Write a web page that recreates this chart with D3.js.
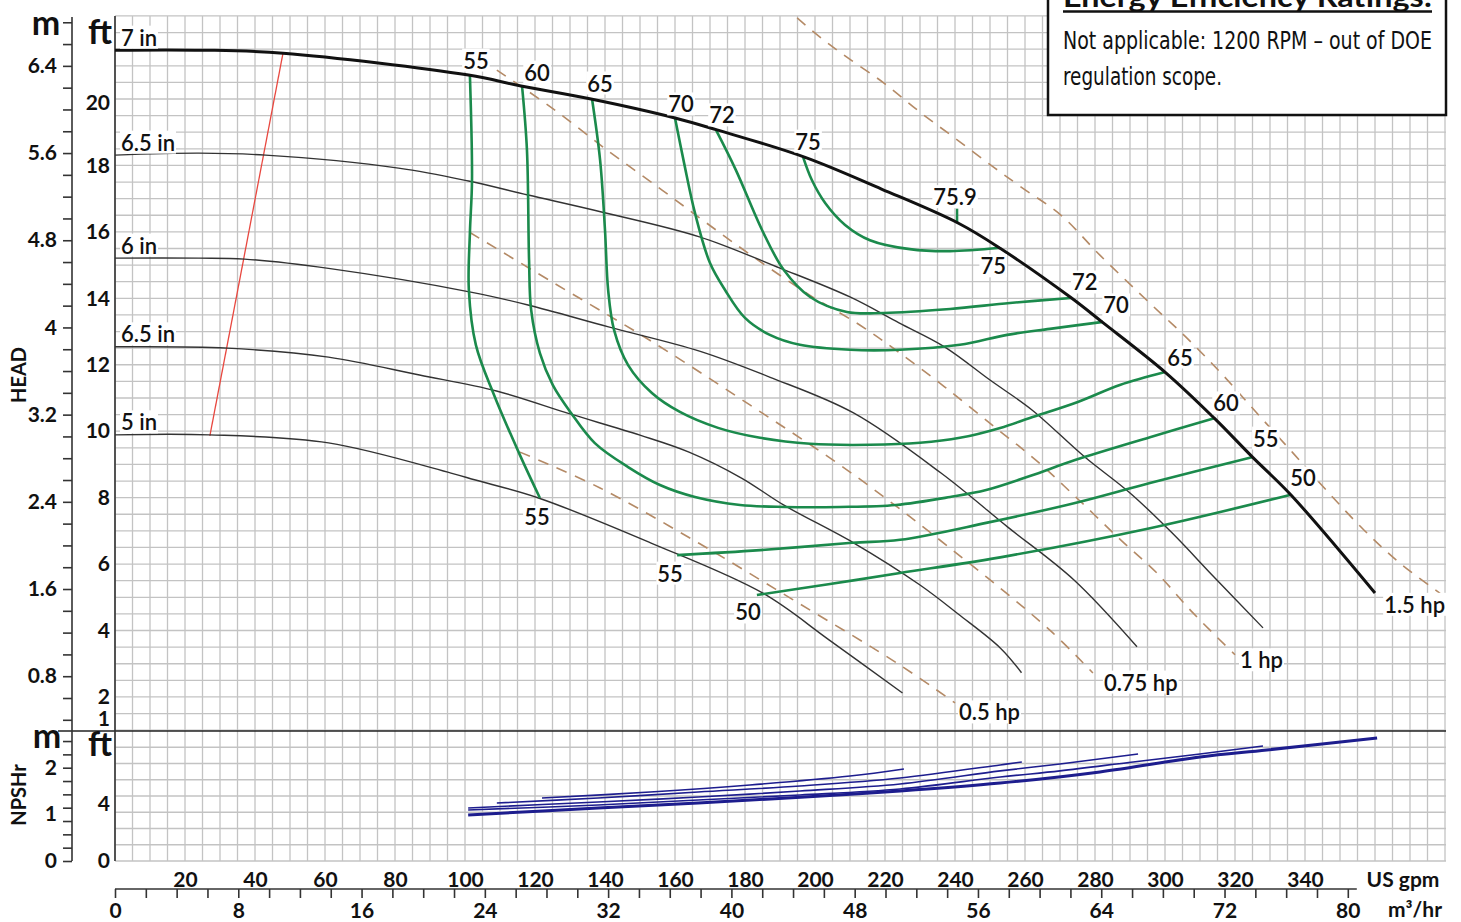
<!DOCTYPE html>
<html><head><meta charset="utf-8">
<script src="https://cdn.jsdelivr.net/npm/d3@7"></script>
<style>
body{margin:0;background:#fff}
svg{display:block}
text{font-family:Lato,"Open Sans","DejaVu Sans",sans-serif;fill:#111}
</style>
</head><body>
<svg id="c" width="1461" height="922"></svg>
<script>
// ---------------- DATA ----------------
const gpmTicks = [20,40,60,80,100,120,140,160,180,200,220,240,260,280,300,320,340];
const m3hLabels = [0,8,16,24,32,40,48,56,64,72,80];
const headFtTicks = [20,18,16,14,12,10,8,6,4,2,1];
const headMTicks = [6.4,5.6,4.8,4,3.2,2.4,1.6,0.8];
const npshFtTicks = [4,0];
const npshMTicks = [2,1,0];

const impellerNames = ["7 in","6.5 in","6 in","6.5 in","5 in"];

// head curves (US gpm, ft)
const h1Gpm = [0,25,48,101,116,136,160,172,197,219,241,253,273,282,300,314,325,336,360];
const h1Ft  = [21.47,21.47,21.38,20.72,20.39,20.0,19.43,19.07,18.25,17.29,16.26,15.50,14.03,13.29,11.78,10.40,9.22,8.08,5.13];
const h2Gpm = [0,24,43,81,101,118,139,167,190,210,224,237,250,262,277,290,302,314,328];
const h2Ft  = [18.31,18.37,18.31,17.92,17.53,17.11,16.60,15.85,14.91,14.04,13.26,12.54,11.54,10.64,9.23,8.14,6.94,5.61,4.08];
const h3Gpm = [0,24,37,61,102,118,141,167,187,211,236,255,274,292];
const h3Ft  = [15.21,15.21,15.18,14.90,14.18,13.80,13.14,12.41,11.63,10.55,8.74,7.12,5.52,3.51];
const h4Gpm = [0,32,61,87,109,130,150,164,179,191,211,230,241,253,259];
const h4Ft  = [12.54,12.50,12.23,11.69,11.21,10.52,9.88,9.37,8.59,7.78,6.64,5.37,4.49,3.47,2.73];
const h5Gpm = [0,27,61,96,103,121,153,185,204,225];
const h5Ft  = [9.89,9.89,9.65,8.74,8.53,7.99,6.64,5.13,3.72,2.12];

// efficiency curves (%)
const e55aGpm = [101.4,102.0,101.4,101.1,103.1,108.3,115.7,121.4];
const e55aFt  = [20.72,17.56,15.97,14.25,12.60,11.09,9.28,7.99];
const e55bGpm = [160.6,184.3,210.6,224.3,248.9,274.3,295.7,325.1];
const e55bFt  = [6.27,6.42,6.64,6.73,7.24,7.84,8.44,9.22];
const e50Gpm  = [183.4,204.3,224.3,254.9,295.7,335.7];
const e50Ft   = [5.07,5.40,5.73,6.24,7.08,8.08];
const e60Gpm  = [116.3,117.7,118.3,118.9,121.4,125.1,130.3,137.1,146.6,155.7,165.7,178.6,191.4,207.1,223.1,238.6,248.9,261.4,274.3,295.7,314.3];
const e60Ft   = [20.39,18.47,15.16,13.65,12.35,11.39,10.55,9.64,8.92,8.38,8.02,7.78,7.72,7.72,7.78,8.02,8.23,8.65,9.13,9.82,10.40];
const e65Gpm  = [136.3,138.6,140.0,140.9,142.6,146.6,153.4,161.4,172.3,184.3,198.6,215.7,230.0,241.4,252.9,261.4,275.1,287.1,300.0];
const e65Ft   = [20.00,18.16,16.05,14.25,13.04,11.99,11.15,10.58,10.10,9.80,9.62,9.59,9.65,9.80,10.10,10.40,10.88,11.39,11.78];
const e70Gpm  = [160.0,162.6,165.7,170.0,174.3,180.0,187.1,195.7,210.0,224.3,241.4,254.9,267.1,282.3];
const e70Ft   = [19.43,18.07,16.57,15.06,14.25,13.41,12.90,12.60,12.45,12.45,12.60,12.90,13.08,13.29];
const e72Gpm  = [171.7,177.4,184.9,191.1,198.6,209.1,219.7,238.6,255.7,273.1];
const e72Ft   = [19.07,17.86,16.05,14.85,14.04,13.59,13.56,13.68,13.86,14.01];
const e75Gpm  = [196.6,199.1,202.9,208.6,215.7,227.1,238.6,252.9];
const e75Ft   = [18.25,17.56,16.87,16.21,15.75,15.48,15.42,15.52];
const bepGpm = 240.6, bepFt = [16.26,16.70], bepLabel = "75.9";

// power lines (hp)
const hpNames = ["0.5 hp","0.75 hp","1 hp","1.5 hp"];
const p1Gpm = [115.7,138.6,167.1,195.7,224.3,240.0];
const p1Ft  = [9.37,8.29,6.61,4.80,2.96,1.82];
const p2Gpm = [101.4,124.3,152.9,181.4,210.0,238.6,267.1,279.4];
const p2Ft  = [15.98,14.53,12.73,10.79,8.77,6.48,4.01,2.72];
const p3Gpm = [109.1,124.6,141.4,156.3,169.1,182.9,198.6,212.9,224.3,237.1,251.4,263.1,275.4,287.4,297.7,308.0,320.0];
const p3Ft  = [20.87,19.75,18.40,17.26,16.26,15.21,14.09,13.19,12.35,11.33,10.12,9.13,7.93,6.72,5.73,4.53,3.27];
const p4Gpm = [194.9,201.7,209.1,219.7,230.3,240.9,251.4,258.9,270.3,281.4,295.7,306.0,316.0,326.3,336.6,346.9,356.9,367.1,378.6];
const p4Ft  = [22.44,21.84,21.26,20.48,19.58,18.75,17.92,17.35,16.50,15.30,13.85,12.83,11.75,10.54,9.34,8.13,7.02,6.03,5.12];

// red line
const redGpm = [27.1,48.0];
const redFt  = [9.86,21.38];

// NPSHr (ft)
const n1Gpm = [100.9,138.0,166.6,197.1,224.3,252.9,281.4,310.0,329.1,360.6];
const n1Ft  = [3.23,3.72,4.07,4.49,4.91,5.47,6.25,7.30,7.79,8.63];
const n2Gpm = [100.9,138.0,166.6,195.7,224.3,252.9,270.0,290.9,310.0,328.0];
const n2Ft  = [3.58,3.93,4.28,4.63,5.05,5.89,6.32,6.95,7.51,8.07];
const n3Gpm = [100.9,138.0,166.6,195.7,224.3,252.9,270.0,292.3];
const n3Ft  = [3.72,4.14,4.49,4.91,5.40,6.32,6.81,7.51];
const n4Gpm = [109.1,138.0,166.6,195.7,224.3,252.9,259.1];
const n4Ft  = [4.07,4.42,4.84,5.26,5.82,6.74,6.95];
const n5Gpm = [122.0,152.9,181.4,210.0,225.4];
const n5Ft  = [4.42,4.84,5.33,5.96,6.46];

const legendTitle = "Energy Efficiency Ratings:";
const legendLines = ["Not applicable: 1200 RPM \u2013 out of DOE","regulation scope."];

// ---------------- LAYOUT ----------------
const FT_PER_M = 3.28084, GPM_PER_M3H = 4.402868;
const svg = d3.select("#c");
const x = d3.scaleLinear().domain([0,380]).range([115,1445]);
const yH = d3.scaleLinear().domain([0,22.5]).range([763.4, 763.4-22.5*33.22]);
const yHm = d3.scaleLinear().domain([0,22.5/FT_PER_M]).range(yH.range());
const yN = d3.scaleLinear().domain([0,9.12]).range([861,731]);
const yNm = d3.scaleLinear().domain([0,9.12/FT_PER_M]).range([861,731]);
const xm = d3.scaleLinear().domain([0,380/GPM_PER_M3H]).range([115,1445]);
const TOP = 16, SEP = yN(9.12), BOT = yN(0), RIGHT = 1446;

const pts = (g,f) => d3.zip(g,f);
const lineH = d3.line().x(d=>x(d[0])).y(d=>yH(d[1])).curve(d3.curveCatmullRom.alpha(0.5));
const lineN = d3.line().x(d=>x(d[0])).y(d=>yN(d[1])).curve(d3.curveCatmullRom.alpha(0.5));

// grid
const grid = svg.append("g").attr("stroke","#c3c3c3").attr("stroke-width",1.3);
grid.selectAll(".v").data(d3.range(0,381,5)).join("line")
  .attr("x1",d=>x(d)).attr("x2",d=>x(d)).attr("y1",TOP).attr("y2",BOT);
grid.selectAll(".h").data(d3.range(1,22.51,0.5)).join("line").attr("class","h")
  .attr("x1",x(0)).attr("x2",RIGHT).attr("y1",d=>yH(d)).attr("y2",d=>yH(d));
grid.selectAll(".n").data(d3.range(0,8).map(i=>i*9.12/8)).join("line").attr("class","n")
  .attr("x1",x(0)).attr("x2",RIGHT).attr("y1",d=>yN(d)).attr("y2",d=>yN(d));

// separator and axis lines
svg.append("line").attr("x1",58).attr("x2",RIGHT).attr("y1",SEP).attr("y2",SEP).attr("stroke","#222").attr("stroke-width",1.6);
svg.append("line").attr("x1",x(0)).attr("x2",x(0)).attr("y1",TOP).attr("y2",BOT).attr("stroke","#333").attr("stroke-width",1.6);
svg.append("line").attr("x1",72).attr("x2",72).attr("y1",17).attr("y2",BOT).attr("stroke","#333").attr("stroke-width",1.6);

function styleAxis(g, size){
  g.select(".domain").remove();
  g.selectAll("line").attr("stroke","#333").attr("stroke-width",1.6);
  g.selectAll("text").attr("font-size",size).attr("font-weight",700).attr("fill","#111")
    .style("font-family","Lato, 'Open Sans', sans-serif");
}
// head m axis
const mMinor = d3.range(2,35).map(i=>i*0.2);
styleAxis(svg.append("g").attr("transform","translate(72,0)")
  .call(d3.axisLeft(yHm).tickValues(mMinor).tickSize(9).tickFormat("")),21);
styleAxis(svg.append("g").attr("transform","translate(72,0)")
  .call(d3.axisLeft(yHm).tickValues(headMTicks).tickSize(0).tickPadding(15).tickFormat(d=>String(d))),21);
// npsh m axis
styleAxis(svg.append("g").attr("transform","translate(72,0)")
  .call(d3.axisLeft(yNm).tickValues(d3.range(0,10).map(i=>i*0.285)).tickSize(9).tickFormat("")),21);
styleAxis(svg.append("g").attr("transform","translate(72,0)")
  .call(d3.axisLeft(yNm).tickValues(npshMTicks).tickSize(0).tickPadding(15).tickFormat(d=>String(d))),21);
// ft axes
const ftAx = svg.append("g").attr("transform",`translate(${x(0)},0)`)
  .call(d3.axisLeft(yH).tickValues(headFtTicks).tickSize(0).tickPadding(5));
styleAxis(ftAx,21);
ftAx.selectAll(".tick").filter(d=>d===1).select("text").attr("y",-11);
ftAx.selectAll(".tick").filter(d=>d===20).select("text").attr("y",4);
styleAxis(svg.append("g").attr("transform",`translate(${x(0)},0)`)
  .call(d3.axisLeft(yN).tickValues(npshFtTicks).tickSize(0).tickPadding(5)),21);

// bottom axes
styleAxis(svg.append("g").attr("transform","translate(0,872)")
  .call(d3.axisBottom(x).tickValues(gpmTicks).tickSize(0).tickPadding(0)),21);
const mAx = svg.append("g").attr("transform","translate(0,889)")
  .call(d3.axisBottom(xm).tickValues(d3.range(0,81,2)).tickSize(9).tickPadding(5)
    .tickFormat(d=>m3hLabels.includes(d)?String(d):""));
styleAxis(mAx,21);
svg.append("line").attr("x1",xm(0)).attr("x2",xm(80)+9).attr("y1",889).attr("y2",889).attr("stroke","#333").attr("stroke-width",1.6);

// unit labels
const unit = (tx,ty,t,size,anchor)=>svg.append("text").attr("x",tx).attr("y",ty).attr("font-size",size)
  .attr("font-weight",700).attr("text-anchor",anchor||"middle").text(t);
unit(46,35,"m",34); unit(100,44,"ft",34);
unit(47,748,"m",34); unit(100,756,"ft",34);
unit(1403,887,"US gpm",21); unit(1415,917,"m\u00b3/hr",21);
svg.append("text").attr("transform","translate(26,375) rotate(-90)").attr("text-anchor","middle")
  .attr("font-size",20).attr("font-weight",700).text("HEAD");
svg.append("text").attr("transform","translate(26,795) rotate(-90)").attr("text-anchor","middle")
  .attr("font-size",20).attr("font-weight",700).text("NPSHr");

// curves
const curves = svg.append("g").attr("fill","none");
curves.append("path").attr("d",lineH(pts(redGpm,redFt))).attr("stroke","#e8473f").attr("stroke-width",1.3);
const heads = [[h1Gpm,h1Ft],[h2Gpm,h2Ft],[h3Gpm,h3Ft],[h4Gpm,h4Ft],[h5Gpm,h5Ft]];
const powers = [[p1Gpm,p1Ft],[p2Gpm,p2Ft],[p3Gpm,p3Ft],[p4Gpm,p4Ft]];
powers.forEach(p=>curves.append("path").attr("d",lineH(pts(p[0],p[1])))
  .attr("stroke","#b48a66").attr("stroke-width",1.6).attr("stroke-dasharray","11,9"));
heads.slice(1).forEach(h=>curves.append("path").attr("d",lineH(pts(h[0],h[1])))
  .attr("stroke","#333").attr("stroke-width",1.4));
const effs = [[e55aGpm,e55aFt],[e55bGpm,e55bFt],[e50Gpm,e50Ft],[e60Gpm,e60Ft],[e65Gpm,e65Ft],[e70Gpm,e70Ft],[e72Gpm,e72Ft],[e75Gpm,e75Ft]];
effs.forEach(e=>curves.append("path").attr("d",lineH(pts(e[0],e[1])))
  .attr("stroke","#1b8a4c").attr("stroke-width",2.6));
curves.append("line").attr("x1",x(bepGpm)).attr("x2",x(bepGpm)).attr("y1",yH(bepFt[0])).attr("y2",yH(bepFt[1]))
  .attr("stroke","#1b8a4c").attr("stroke-width",2.4);
curves.append("path").attr("d",lineH(pts(h1Gpm,h1Ft))).attr("stroke","#111").attr("stroke-width",3);

// NPSH
const npsh = [[n1Gpm,n1Ft,3],[n2Gpm,n2Ft,1.6],[n3Gpm,n3Ft,1.6],[n4Gpm,n4Ft,1.6],[n5Gpm,n5Ft,1.6]];
npsh.forEach(n=>curves.append("path").attr("d",lineN(pts(n[0],n[1])))
  .attr("stroke","#1d1d8e").attr("stroke-width",n[2]));

// labels with white background
const labels = svg.append("g");
function lab(px,py,txt,anchor){
  const t = labels.append("text").attr("x",px).attr("y",py).attr("text-anchor",anchor||"middle")
    .attr("dominant-baseline","central").attr("font-size",22).attr("font-weight",600).text(txt);
  const b = t.node().getBBox();
  labels.insert("rect",()=>t.node()).attr("x",b.x-1).attr("y",b.y+2).attr("width",b.width+2)
    .attr("height",b.height-4).attr("fill","#fff");
}
const P = (g,f,i)=>{const k = i<0? g.length+i : i; return [x(g[k]), yH(f[k])];};
heads.forEach((h,i)=>{const p=P(h[0],h[1],0); lab(p[0]+6,p[1]-13,impellerNames[i],"start");});

const topL = [[e55aGpm,e55aFt,"55",6,-15],[e60Gpm,e60Ft,"60",15,-14],[e65Gpm,e65Ft,"65",8,-16],
              [e70Gpm,e70Ft,"70",6,-14],[e72Gpm,e72Ft,"72",6,-15],[e75Gpm,e75Ft,"75",5,-16]];
topL.forEach(l=>{const p=P(l[0],l[1],0); lab(p[0]+l[3],p[1]+l[4],l[2]);});
const rightL = [[e75Gpm,e75Ft,"75",-7,18],[e72Gpm,e72Ft,"72",14,-16],[e70Gpm,e70Ft,"70",13,-17],
                [e65Gpm,e65Ft,"65",15,-15],[e60Gpm,e60Ft,"60",11,-15],[e55bGpm,e55bFt,"55",13,-19],[e50Gpm,e50Ft,"50",13,-17]];
rightL.forEach(l=>{const p=P(l[0],l[1],-1); lab(p[0]+l[3],p[1]+l[4],l[2]);});
const botL = [[e55aGpm,e55aFt,"55",-1,-3,19],[e55bGpm,e55bFt,"55",0,-7,18],[e50Gpm,e50Ft,"50",0,-9,17]];
botL.forEach(l=>{const p=P(l[0],l[1],l[3]); lab(p[0]+l[4],p[1]+l[5],l[2]);});
lab(x(bepGpm)-2, yH(bepFt[1])-12, bepLabel);
const hpOff = [[4,9,"start"],[11,9,"start"],[5,5,"start"],[5,11,"end"]];
powers.forEach((p,i)=>{const q=P(p[0],p[1],-1); lab(q[0]+hpOff[i][0],q[1]+hpOff[i][1],hpNames[i],hpOff[i][2]);});

// legend box
const lg = svg.append("g");
lg.append("rect").attr("x",1048).attr("y",-10).attr("width",398).attr("height",125)
  .attr("fill","#fff").attr("stroke","#111").attr("stroke-width",2.5);
lg.append("text").attr("x",1063).attr("y",7).attr("font-size",28).attr("font-weight",700)
  .attr("textLength",369).attr("lengthAdjust","spacingAndGlyphs").text(legendTitle);
lg.append("line").attr("x1",1063).attr("x2",1432).attr("y1",11.5).attr("y2",11.5).attr("stroke","#111").attr("stroke-width",2.5);
const lw = [369,159];
legendLines.forEach((t,i)=>lg.append("text").attr("x",1063).attr("y",49+i*36)
  .attr("font-size",25).style("font-family","'Liberation Sans Narrow','DejaVu Sans Condensed','Liberation Sans',sans-serif")
  .style("font-stretch","condensed").attr("textLength",lw[i]).attr("lengthAdjust","spacingAndGlyphs").text(t));
</script>
</body></html>
